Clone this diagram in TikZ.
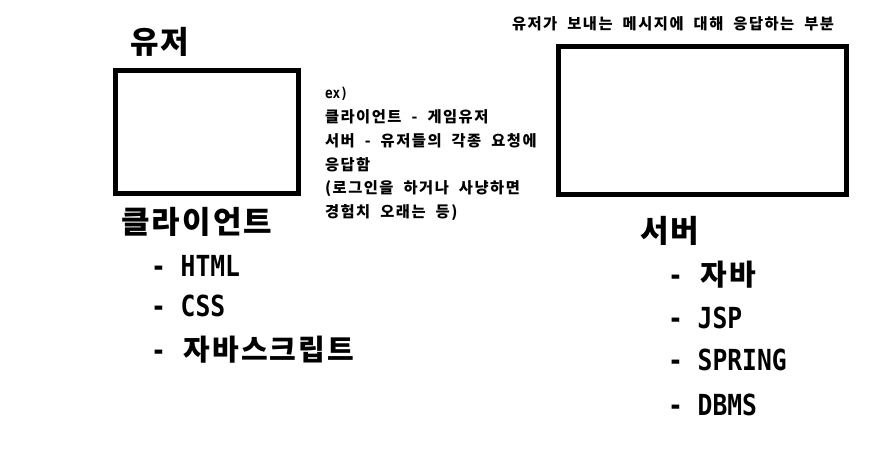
\documentclass[tikz,border=0pt]{standalone}
\usepackage{fontspec}
\setmainfont{Noto Sans CJK KR}[WordSpace=2.2]
\newfontfamily\kr{Noto Sans CJK KR}[WordSpace=2.0,LetterSpace=10]
\newfontfamily\krbig{Noto Sans CJK KR}[WordSpace=2.0,LetterSpace=7]
\newfontfamily\mono{DejaVu Sans Mono}[FakeStretch=0.85]
\begin{document}
\begin{tikzpicture}[x=1pt,y=-1pt,
  box/.style={draw=black,line width=5pt},
  txt/.style={anchor=west,inner sep=0pt,outer sep=0pt},
  big/.style={txt,font=\krbig\bfseries\fontsize{31}{31}\selectfont},
  item/.style={txt,font=\mono\bfseries\fontsize{29}{29}\selectfont},
  small/.style={txt,font=\kr\bfseries\fontsize{15.3}{15.3}\selectfont}]
\useasboundingbox[fill=white] (0,0) rectangle (877,455);
% left
\node[big] (user) at (130,42) {유저};
\draw[box] (115.5,70.5) rectangle (298.5,193.5);
\node[big] (client) at (121,222) {클라이언트};
\node[item] (html) at (151,266) {- HTML};
\node[item] (css) at (151,306) {- CSS};
\node[item] (js) at (151,350) {- \hspace{3pt}{\krbig 자바스크립트}};
% middle
\node[small] (m1) at (325,94) {{\mono\fontsize{15}{15}\selectfont ex)}};
\node[small] (m2) at (325,117) {클라이언트 - 게임유저};
\node[small] (m3) at (325,141) {서버 - 유저들의 각종 요청에};
\node[small] (m4) at (325,165) {응답함};
\node[small] (m5) at (325,189) {(로그인을 하거나 사냥하면};
\node[small] (m6) at (325,213) {경험치 오래는 등)};
% right
\node[small] (note) at (512,24) {유저가 보내는 메시지에 대해 응답하는 부분};
\draw[box] (558.5,46.5) rectangle (846.5,194.5);
\node[big] (server) at (640,231) {서버};
\node[item] (java) at (668,275) {- \hspace{3pt}{\krbig 자바}};
\node[item] (jsp) at (668,318) {- JSP};
\node[item] (spring) at (668,360) {- SPRING};
\node[item] (dbms) at (668,405) {- DBMS};
\end{tikzpicture}
\end{document}
